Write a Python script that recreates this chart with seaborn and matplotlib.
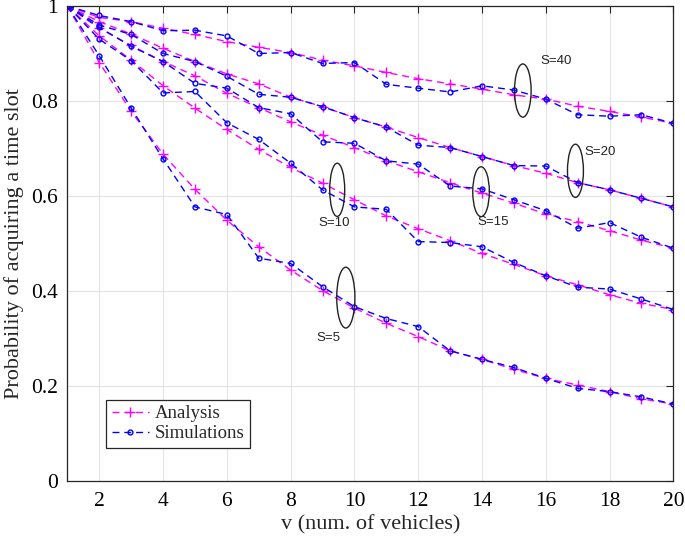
import numpy as np
import pandas as pd
import matplotlib
matplotlib.use("Agg")
import matplotlib.pyplot as plt
from matplotlib.lines import Line2D
from matplotlib.patches import Ellipse
import seaborn as sns

# data
v = list(range(1, 21))

ana_s5 = [1.0, 0.881, 0.778, 0.688, 0.614, 0.549, 0.493, 0.444, 0.401, 0.364,
          0.332, 0.304, 0.274, 0.256, 0.235, 0.216, 0.202, 0.188, 0.173, 0.162]
sim_s5 = [1.0, 0.895, 0.785, 0.678, 0.577, 0.561, 0.469, 0.458, 0.409, 0.367,
          0.342, 0.325, 0.274, 0.256, 0.239, 0.216, 0.195, 0.188, 0.177, 0.162]

ana_s10 = [1.0, 0.937, 0.886, 0.832, 0.785, 0.740, 0.698, 0.660, 0.627, 0.592,
           0.558, 0.531, 0.506, 0.479, 0.456, 0.432, 0.413, 0.392, 0.374, 0.361]
sim_s10 = [1.0, 0.930, 0.885, 0.817, 0.820, 0.754, 0.719, 0.669, 0.613, 0.577,
           0.572, 0.504, 0.502, 0.493, 0.460, 0.432, 0.408, 0.404, 0.383, 0.361]

ana_s15 = [1.0, 0.953, 0.917, 0.883, 0.853, 0.816, 0.786, 0.756, 0.728, 0.702,
           0.674, 0.651, 0.628, 0.606, 0.585, 0.562, 0.546, 0.527, 0.507, 0.490]
sim_s15 = [1.0, 0.955, 0.915, 0.883, 0.837, 0.827, 0.786, 0.773, 0.714, 0.711,
           0.674, 0.667, 0.621, 0.615, 0.592, 0.569, 0.532, 0.544, 0.513, 0.490]

ana_s20 = [1.0, 0.967, 0.941, 0.911, 0.883, 0.857, 0.836, 0.808, 0.788, 0.765,
           0.745, 0.723, 0.702, 0.683, 0.664, 0.648, 0.628, 0.613, 0.595, 0.577]
sim_s20 = [1.0, 0.960, 0.940, 0.900, 0.883, 0.852, 0.814, 0.808, 0.788, 0.765,
           0.745, 0.707, 0.702, 0.683, 0.664, 0.663, 0.628, 0.613, 0.595, 0.577]

ana_s40 = [1.0, 0.976, 0.967, 0.953, 0.940, 0.925, 0.913, 0.902, 0.886, 0.874,
           0.860, 0.847, 0.836, 0.825, 0.813, 0.804, 0.789, 0.778, 0.766, 0.753]
sim_s40 = [1.0, 0.980, 0.967, 0.948, 0.949, 0.937, 0.900, 0.902, 0.879, 0.881,
           0.835, 0.827, 0.819, 0.832, 0.823, 0.804, 0.771, 0.768, 0.771, 0.753]

analysis = {5: ana_s5, 10: ana_s10, 15: ana_s15, 20: ana_s20, 40: ana_s40}
simulation = {5: sim_s5, 10: sim_s10, 15: sim_s15, 20: sim_s20, 40: sim_s40}

# ellipse annotations: label, ellipse (x, y, width, height), text position
annot_labels = ["S=40", "S=20", "S=15", "S=10", "S=5"]
annot_ell = [(15.28, 0.822, 0.52, 0.112), (16.93, 0.653, 0.50, 0.112),
             (13.97, 0.609, 0.52, 0.105), (9.46, 0.613, 0.47, 0.112),
             (9.73, 0.386, 0.57, 0.128)]
annot_txt = [(15.84, 0.885), (17.21, 0.693), (13.85, 0.546), (8.87, 0.544), (8.82, 0.302)]

rows = []
for s in analysis:
    for xi, a, b in zip(v, analysis[s], simulation[s]):
        rows.append({"v": xi, "p": a, "S": s, "kind": "Analysis"})
        rows.append({"v": xi, "p": b, "S": s, "kind": "Simulations"})
df = pd.DataFrame(rows)

sns.set_style("white")
plt.rcParams["font.family"] = ["Liberation Serif", "DejaVu Serif"]

fig = plt.figure(figsize=(6.85, 5.4), dpi=100)
ax = fig.add_axes([0.0984, 0.1093, 0.8846, 0.8796])

magenta = "#ff00ff"
blue = "#0000ff"
dash = (0, (5, 3.5))

for s in analysis:
    sub = df[(df["S"] == s) & (df["kind"] == "Analysis")]
    sns.lineplot(data=sub, x="v", y="p", ax=ax, color=magenta, lw=1.0,
                 linestyle=dash, marker="+", markersize=7, mew=1.0, mec=magenta,
                 legend=False)
    sub = df[(df["S"] == s) & (df["kind"] == "Simulations")]
    sns.lineplot(data=sub, x="v", y="p", ax=ax, color=blue, lw=1.0,
                 linestyle=dash, marker="o", markersize=3.5, mew=1.0, mec=blue,
                 mfc="none", legend=False)

for lab, (ex, ey, ew, eh), (tx, ty) in zip(annot_labels, annot_ell, annot_txt):
    ax.add_patch(Ellipse((ex, ey), ew, eh, fill=False, ec="#222222", lw=1.0, zorder=5))
    ax.text(tx, ty, lab, fontsize=9.5, family=["Liberation Sans", "DejaVu Sans"],
            color="#222222", ha="left", va="center", zorder=6)

ax.set_xlim(1, 20)
ax.set_ylim(0, 1)
ax.set_xticks(range(2, 21, 2))
ax.set_yticks([0, 0.2, 0.4, 0.6, 0.8, 1.0])
ax.set_yticklabels(["0", "0.2", "0.4", "0.6", "0.8", "1"])
ax.tick_params(direction="in", length=5, width=0.8, top=True, right=True,
               labelsize=15.5, colors="#262626", labelcolor="black")
ax.tick_params(axis="x", pad=8)
ax.tick_params(axis="y", pad=7)
ax.grid(True, color="#e3e3e3", lw=0.8)
ax.set_axisbelow(True)
for sp in ax.spines.values():
    sp.set_color("#262626")
    sp.set_linewidth(0.9)

ax.set_xlabel("v (num. of vehicles)", fontsize=16, labelpad=3)
ax.set_ylabel("Probability of acquiring a time slot", fontsize=16, labelpad=5)

handles = [Line2D([], [], color=magenta, lw=1.0, linestyle=dash, marker="+", markersize=7),
           Line2D([], [], color=blue, lw=1.0, linestyle=dash, marker="o", markersize=3.5, mfc="none")]
leg = ax.legend(handles, ["Analysis", "Simulations"], loc="lower left",
                bbox_to_anchor=(0.0637, 0.0695), borderaxespad=0, fontsize=13.5,
                frameon=True, fancybox=False, framealpha=1, edgecolor="#262626",
                handlelength=2.0, handletextpad=0.3, borderpad=0.3, labelspacing=0.15)
leg.get_frame().set_linewidth(0.9)

fig.savefig("out.png", dpi=100)
